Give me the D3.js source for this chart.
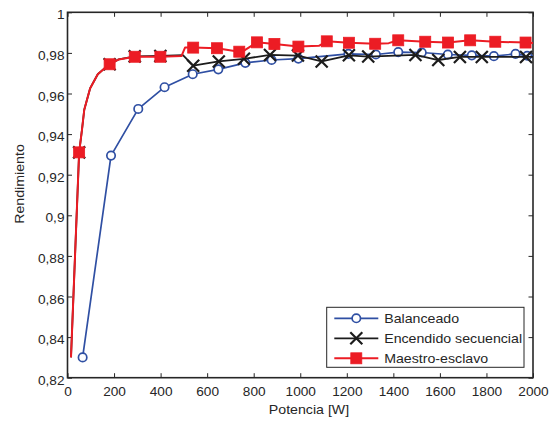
<!DOCTYPE html>
<html>
<head>
<meta charset="utf-8">
<script src="https://cdn.jsdelivr.net/npm/d3@7"></script>
<style>
  html, body { margin: 0; padding: 0; background: #fff; }
  svg { display: block; }
  text { font-family: "Liberation Sans", Arial, sans-serif; fill: #262626; }
</style>
</head>
<body>
<svg id="chart" width="556" height="422"></svg>
<script>
// Axis ticks
const xTicks = [0, 200, 400, 600, 800, 1000, 1200, 1400, 1600, 1800, 2000];
const yTicks = [0.82, 0.84, 0.86, 0.88, 0.9, 0.92, 0.94, 0.96, 0.98, 1];

// Series names
const seriesNames = ["Balanceado", "Encendido secuencial", "Maestro-esclavo"];

// Balanceado: power [W] and efficiency
const balPower = [65, 187, 304, 417, 538, 648, 764, 877, 992, 1207, 1325, 1421, 1522, 1634, 1737, 1832, 1925, 1975];
const balEff   = [0.830, 0.9294, 0.9524, 0.9631, 0.9695, 0.9719, 0.9751, 0.9765, 0.9772, 0.9795, 0.9792, 0.9804, 0.9802, 0.9792, 0.9788, 0.9784, 0.9795, 0.9786];
const balCurvePower = [65, 187, 304, 417, 538, 648, 764, 877, 992, 1207, 1325, 1421, 1522, 1634, 1737, 1832, 1925, 1975, 2000];
const balCurveEff   = [0.830, 0.9294, 0.9524, 0.9631, 0.9695, 0.9719, 0.9751, 0.9765, 0.9772, 0.9795, 0.9792, 0.9804, 0.9802, 0.9792, 0.9788, 0.9784, 0.9795, 0.9786, 0.9786];

// Encendido secuencial
const secPower = [50, 181, 289, 399, 540, 650, 758, 870, 990, 1092, 1209, 1292, 1495, 1593, 1686, 1780, 1970];
const secEff   = [0.931, 0.9744, 0.9783, 0.9785, 0.9737, 0.9758, 0.9771, 0.979, 0.9787, 0.9758, 0.9788, 0.9782, 0.979, 0.9765, 0.978, 0.978, 0.978];
const secCurvePower = [15, 50, 62, 72, 97, 130, 155, 181, 220, 289, 399, 496, 540, 650, 758, 870, 990, 1092, 1209, 1292, 1495, 1593, 1686, 1780, 1970, 2000];
const secCurveEff   = [0.83, 0.931, 0.942, 0.952, 0.9625, 0.9695, 0.972, 0.9744, 0.9768, 0.9783, 0.9785, 0.9789, 0.9737, 0.9758, 0.9771, 0.979, 0.9787, 0.9758, 0.9788, 0.9782, 0.979, 0.9765, 0.978, 0.978, 0.978, 0.978];

// Maestro-esclavo
const mePower = [50, 181, 289, 399, 540, 642, 738, 814, 889, 992, 1114, 1209, 1322, 1421, 1537, 1635, 1730, 1838, 1968];
const meEff   = [0.931, 0.9744, 0.9781, 0.9781, 0.9826, 0.9823, 0.9806, 0.9852, 0.9844, 0.9831, 0.9857, 0.985, 0.9845, 0.9862, 0.9855, 0.9851, 0.9862, 0.9855, 0.9851];
const meCurvePower = [15, 50, 62, 72, 97, 130, 155, 181, 220, 289, 399, 490, 505, 540, 642, 738, 760, 814, 889, 992, 1080, 1114, 1209, 1322, 1380, 1421, 1537, 1635, 1730, 1838, 1968, 2000];
const meCurveEff   = [0.83, 0.931, 0.942, 0.952, 0.9625, 0.9695, 0.972, 0.9744, 0.9768, 0.9781, 0.9781, 0.9785, 0.9826, 0.9826, 0.9823, 0.9806, 0.9812, 0.9852, 0.9844, 0.9831, 0.9835, 0.9857, 0.985, 0.9845, 0.9848, 0.9862, 0.9855, 0.9851, 0.9862, 0.9855, 0.9851, 0.9849];

const BLUE = "#2f4fa3", BLACK = "#1c1c1c", RED = "#ec1c24", AXIS = "#262626";

const svg = d3.select("#chart");
const margin = { left: 67.5, right: 23, top: 12.3, bottom: 44.3 };
const W = 556, H = 422;
const x = d3.scaleLinear().domain([0, 2000]).range([margin.left, W - margin.right]);
const y = d3.scaleLinear().domain([0.82, 1]).range([H - margin.bottom, margin.top]);

const locale = d3.formatLocale({ decimal: ",", thousands: ".", grouping: [3], currency: ["", ""] });
const yFmt = locale.format("~g");

// Axes with inward ticks on all four sides
const tickLen = 4.5;
const gx = svg.append("g").attr("transform", `translate(0,${y(0.82)})`)
  .call(d3.axisBottom(x).tickValues(xTicks).tickSize(-tickLen).tickPadding(9).tickFormat(d3.format("d")));
const gxTop = svg.append("g").attr("transform", `translate(0,${y(1)})`)
  .call(d3.axisTop(x).tickValues(xTicks).tickSize(-tickLen).tickFormat(""));
const gy = svg.append("g").attr("transform", `translate(${x(0)},0)`)
  .call(d3.axisLeft(y).tickValues(yTicks).tickSize(-tickLen).tickPadding(3).tickFormat(yFmt));
const gyRight = svg.append("g").attr("transform", `translate(${x(2000)},0)`)
  .call(d3.axisRight(y).tickValues(yTicks).tickSize(-tickLen).tickFormat(""));

[gx, gxTop, gy, gyRight].forEach(g => {
  g.select(".domain").remove();
  g.selectAll(".tick line").attr("stroke", AXIS).attr("stroke-width", 1);
  g.selectAll(".tick text").attr("font-size", 12.5).attr("fill", AXIS)
    .attr("font-family", "Liberation Sans, Arial, sans-serif").classed("stretch", true);
});
gy.selectAll(".tick text").attr("dy", "0.52em");
gx.selectAll(".tick text").attr("dy", "0.71em");

// Box around the plot area
svg.append("rect")
  .attr("x", x(0)).attr("y", y(1))
  .attr("width", x(2000) - x(0)).attr("height", y(0.82) - y(1))
  .attr("fill", "none").attr("stroke", AXIS).attr("stroke-width", 1.6);

// Curves
const line = d3.line().x(d => x(d[0])).y(d => y(d[1]));
const zip = (a, b) => a.map((v, i) => [v, b[i]]);

function drawCurve(p, e, color, width) {
  svg.append("path").datum(zip(p, e))
    .attr("d", line).attr("fill", "none")
    .attr("stroke", color).attr("stroke-width", width)
    .attr("stroke-linejoin", "round");
}

function circleMarker(g, cx, cy) {
  g.append("circle").attr("cx", cx).attr("cy", cy).attr("r", 4.2)
    .attr("fill", "#fff").attr("stroke", BLUE).attr("stroke-width", 1.7);
}
function crossMarker(g, cx, cy) {
  const s = 6;
  g.append("path")
    .attr("d", `M${cx - s},${cy - s}L${cx + s},${cy + s}M${cx - s},${cy + s}L${cx + s},${cy - s}`)
    .attr("stroke", BLACK).attr("stroke-width", 2.2).attr("fill", "none");
}
function squareMarker(g, cx, cy) {
  const s = 11;
  g.append("rect").attr("x", cx - s / 2).attr("y", cy - s / 2).attr("width", s).attr("height", s)
    .attr("fill", RED).attr("stroke", RED).attr("stroke-width", 0.8);
}

drawCurve(balCurvePower, balCurveEff, BLUE, 1.7);
zip(balPower, balEff).forEach(d => circleMarker(svg, x(d[0]), y(d[1])));

drawCurve(secCurvePower, secCurveEff, BLACK, 1.8);
zip(secPower, secEff).forEach(d => crossMarker(svg, x(d[0]), y(d[1])));

drawCurve(meCurvePower, meCurveEff, RED, 2);
zip(mePower, meEff).forEach(d => squareMarker(svg, x(d[0]), y(d[1])));

// Legend
const legX = 326.7, legY = 307.3, legW = 197.3, legH = 60;
const lg = svg.append("g");
lg.append("rect").attr("x", legX).attr("y", legY).attr("width", legW).attr("height", legH)
  .attr("fill", "#fff").attr("stroke", AXIS).attr("stroke-width", 1);
const markerFns = [circleMarker, crossMarker, squareMarker];
const colors = [BLUE, BLACK, RED];
seriesNames.forEach((name, i) => {
  const ry = legY + 11 + i * 20;
  lg.append("line").attr("x1", legX + 7.6).attr("x2", legX + 51.6).attr("y1", ry).attr("y2", ry)
    .attr("stroke", colors[i]).attr("stroke-width", i === 2 ? 2 : 1.7);
  markerFns[i](lg, legX + 29.6, ry);
  lg.append("text").attr("x", legX + 57.5).attr("y", ry).attr("dy", "0.36em")
    .attr("font-size", 13).attr("fill", AXIS).classed("stretch", true).text(name);
});

// Axis labels
svg.append("text").attr("x", 309).attr("y", 414).attr("text-anchor", "middle")
  .attr("font-size", 13).classed("stretch", true).text("Potencia [W]");
svg.append("text").attr("transform", "translate(24,184) rotate(-90)").attr("text-anchor", "middle")
  .attr("font-size", 13).classed("stretch", true).text("Rendimiento");

// Slightly wide letterforms, as in the figure's original typeface
svg.selectAll("text.stretch").each(function () {
  const len = this.getComputedTextLength();
  if (len > 0) d3.select(this).attr("textLength", len * 1.09).attr("lengthAdjust", "spacingAndGlyphs");
});
</script>
</body>
</html>
